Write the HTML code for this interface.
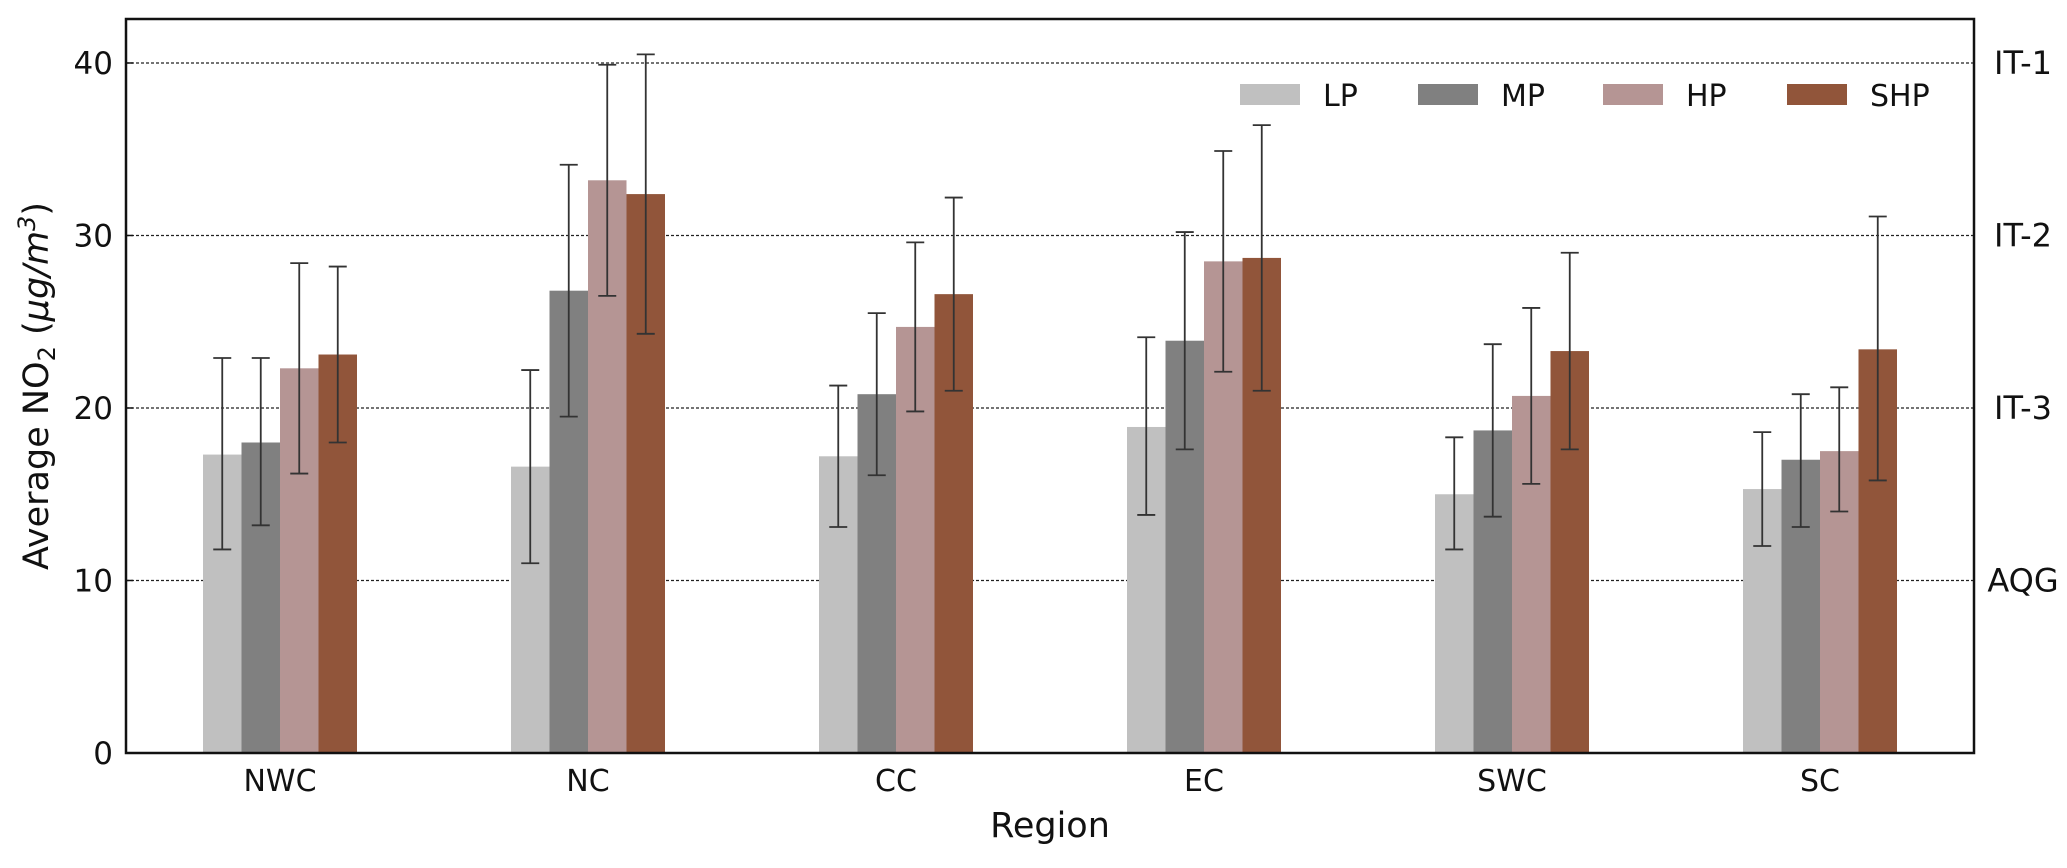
<!DOCTYPE html>
<html><head><meta charset="utf-8"><style>
body{margin:0;background:#fff;}
svg text{font-family:"DejaVu Sans","Liberation Sans",sans-serif;fill:#111;}
</style></head><body>
<svg id="chart" width="2067" height="863" viewBox="0 0 2067 863" xmlns="http://www.w3.org/2000/svg">
<g id="grid"></g>
<g id="bars"></g>
<g id="errs"></g>
<g id="axes"></g>
<g id="legend"></g>
</svg>
<script>
const regions = ["NWC","NC","CC","EC","SWC","SC"];
const seriesNames = ["LP","MP","HP","SHP"];
const lpVals = [17.3,16.6,17.2,18.9,15.0,15.3];
const mpVals = [18.0,26.8,20.8,23.9,18.7,17.0];
const hpVals = [22.3,33.2,24.7,28.5,20.7,17.5];
const shpVals = [23.1,32.4,26.6,28.7,23.3,23.4];
const lpLow = [11.8,11.0,13.1,13.8,11.8,12.0];
const lpHigh = [22.9,22.2,21.3,24.1,18.3,18.6];
const mpLow = [13.2,19.5,16.1,17.6,13.7,13.1];
const mpHigh = [22.9,34.1,25.5,30.2,23.7,20.8];
const hpLow = [16.2,26.5,19.8,22.1,15.6,14.0];
const hpHigh = [28.4,39.9,29.6,34.9,25.8,21.2];
const shpLow = [18.0,24.3,21.0,21.0,17.6,15.8];
const shpHigh = [28.2,40.5,32.2,36.4,29.0,31.1];
const yTicks = [0,10,20,30,40];
const guideVals = [10,20,30,40];
const guideLabels = ["AQG","IT-3","IT-2","IT-1"];

const NS="http://www.w3.org/2000/svg";
const L=126,R=1974,T=19,B=753;
const yMax=42.55;
const y=v=>B-(v/yMax)*(B-T);
const x=i=>L+(i+0.5)/6*(R-L);
const bw=0.125*(R-L)/6;
const colors=["#c0c0c0","#808080","#b59594","#91553a"];
const vals=[lpVals,mpVals,hpVals,shpVals];
const lows=[lpLow,mpLow,hpLow,shpLow];
const highs=[lpHigh,mpHigh,hpHigh,shpHigh];
function mk(tag,attrs,parent){const e=document.createElementNS(NS,tag);for(const k in attrs)e.setAttribute(k,attrs[k]);parent.appendChild(e);return e;}
const grid=document.getElementById('grid'),bars=document.getElementById('bars'),errs=document.getElementById('errs'),axes=document.getElementById('axes'),legend=document.getElementById('legend');
guideVals.forEach((g,i)=>{
  const ln=mk('line',{x1:L,x2:R,y1:y(g),y2:y(g),stroke:'#222','stroke-width':1.2,'stroke-dasharray':'3,2'},grid);
  
  
  const t=mk('text',{x:2023,y:y(g)+11,'font-size':32,'text-anchor':'middle'},grid);
  t.textContent=guideLabels[i];
  
  
});
regions.forEach((r,i)=>{
  for(let s=0;s<4;s++){
    const cx=x(i)+(s-1.5)*bw;
    const rc=mk('rect',{x:cx-bw/2,y:y(vals[s][i]),width:bw,height:B-y(vals[s][i]),fill:colors[s]},bars);
    
    
    const g=mk('g',{stroke:'#333','stroke-width':1.8},errs);
    
    
    mk('line',{x1:cx,x2:cx,y1:y(lows[s][i]),y2:y(highs[s][i])},g);
    mk('line',{x1:cx-9,x2:cx+9,y1:y(lows[s][i]),y2:y(lows[s][i])},g);
    mk('line',{x1:cx-9,x2:cx+9,y1:y(highs[s][i]),y2:y(highs[s][i])},g);
  }
  const t=mk('text',{x:x(i),y:791,'font-size':30,'text-anchor':'middle'},axes);
  t.textContent=r;
  
  
});
yTicks.forEach(v=>{
  mk('line',{x1:L,x2:L+7,y1:y(v),y2:y(v),stroke:'#111','stroke-width':1.5},axes);
  const t=mk('text',{x:113,y:y(v)+11,'font-size':31,'text-anchor':'end'},axes);
  t.textContent=v;
  
  
});
const fr=mk('rect',{x:L,y:T,width:R-L,height:B-T,fill:'none',stroke:'#111','stroke-width':2.5},axes);


const xl=mk('text',{x:(L+R)/2,y:837,'font-size':35,'text-anchor':'middle'},axes);
xl.textContent='Region';


const yl=mk('text',{x:0,y:0,'font-size':35,'text-anchor':'middle',transform:'translate(48,386) rotate(-90)'},axes);
yl.innerHTML='Average NO<tspan font-size="24" dy="7">2</tspan><tspan dy="-7"> (</tspan><tspan font-style="italic">μg/m</tspan><tspan font-size="24" dy="-13" font-style="italic">3</tspan><tspan dy="13">)</tspan>';


const lx=[1240,1418,1603,1787];
seriesNames.forEach((n,s)=>{
  const g=mk('g',{},legend);
  
  
  mk('rect',{x:lx[s],y:84,width:60,height:21,fill:colors[s]},g);
  const t=mk('text',{x:lx[s]+83,y:106,'font-size':30},g);
  t.textContent=n;
});
</script>
</body></html>
